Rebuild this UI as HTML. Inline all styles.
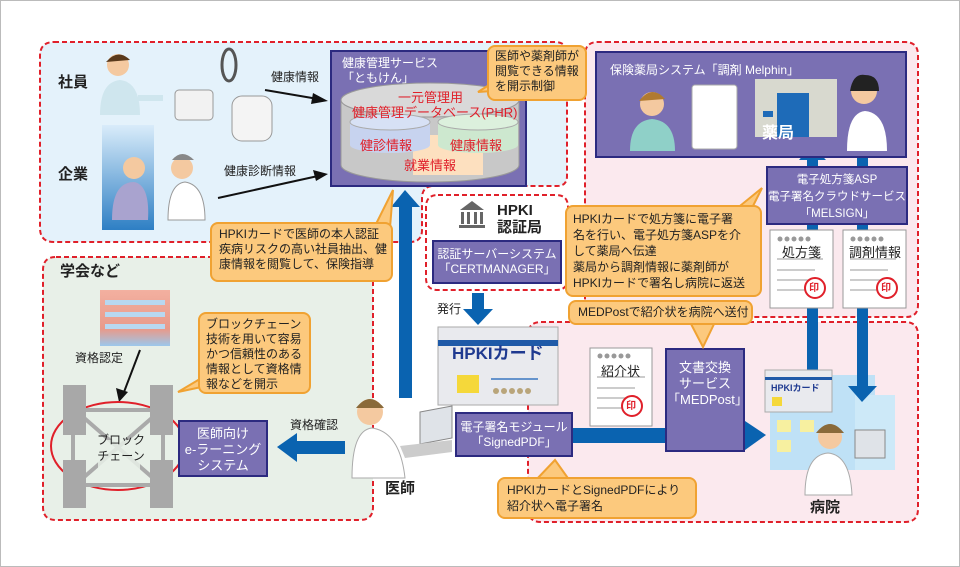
<!DOCTYPE html>
<html><head><meta charset="utf-8"><style>
*{margin:0;padding:0;box-sizing:border-box}
body{width:960px;height:567px;background:#fff;position:relative;overflow:hidden;font-family:"Liberation Sans","Noto Sans CJK JP",sans-serif;color:#222}
.a{position:absolute}
.t{position:absolute;font-size:12px;line-height:15px;white-space:nowrap}
.b{font-weight:bold;font-size:15px}
.p{position:absolute;background:#7a70b3;border:2px solid #2c2a80;color:#fff;font-size:12px;line-height:15px;text-align:center;white-space:nowrap}
.c{position:absolute;background:#fcc97d;border:2px solid #f0a232;border-radius:8px;font-size:12px;line-height:15px;color:#222;padding:2px 6px;white-space:nowrap;overflow:hidden}
</style></head><body>
<svg class="a" style="left:0;top:0" width="960" height="567">
<defs><linearGradient id="bg" x1="0" y1="0" x2="0" y2="1"><stop offset="0" stop-color="#d9ecfa"/><stop offset="1" stop-color="#2e7fc4"/></linearGradient>
<linearGradient id="pk" x1="0" y1="0" x2="0" y2="1"><stop offset="0" stop-color="#f3b0a0"/><stop offset="0.7" stop-color="#e89a8a"/><stop offset="1" stop-color="#9cc8ec"/></linearGradient></defs>
<rect x="0.5" y="0.5" width="959" height="566" fill="#fff" stroke="#bbb"/>
<path d="M54,42 H555 Q567,42 567,54 V176 Q567,186 557,186 H434 Q422,186 422,198 V230 Q422,242 410,242 H54 Q40,242 40,228 V56 Q40,42 54,42Z" fill="#e4f2fb" stroke="#e0202a" stroke-width="2" stroke-dasharray="5,3"/>
<path d="M56,257 H360 Q373,257 373,270 V507 Q373,520 360,520 H56 Q43,520 43,507 V270 Q43,257 56,257Z" fill="#e8f0e8" stroke="#e0202a" stroke-width="2" stroke-dasharray="5,3"/>
<path d="M606,42 H905 Q918,42 918,55 V305 Q918,317 906,317 H585 V55 Q585,42 598,42Z" fill="#fbe9ee" stroke="#e0202a" stroke-width="2" stroke-dasharray="5,3"/>
<path d="M541,322 H905 Q918,322 918,335 V509 Q918,522 905,522 H541 Q528,522 528,509 V335 Q528,322 541,322Z" fill="#fbe9ee" stroke="#e0202a" stroke-width="2" stroke-dasharray="5,3"/>
<path d="M438,195 H556 Q568,195 568,207 V278 Q568,290 556,290 H438 Q426,290 426,278 V207 Q426,195 438,195Z" fill="#fff" stroke="#e0202a" stroke-width="2" stroke-dasharray="5,3"/>
<rect x="770" y="375" width="105" height="95" fill="#bfe1f6"/><rect x="855" y="395" width="40" height="75" fill="#cde9f8"/>
<g fill="#f7f0a0"><rect x="777" y="420" width="14" height="12"/><rect x="777" y="440" width="14" height="12"/><rect x="800" y="420" width="14" height="12"/></g>
<rect x="807" y="158" width="11" height="212" fill="#0a63b0"/>
<polygon points="799,160 826,160 812,145" fill="#0a63b0"/>
<rect x="857" y="158" width="11" height="230" fill="#0a63b0"/>
<polygon points="848,386 877,386 862,402" fill="#0a63b0"/>
<rect x="765" y="370" width="67" height="42" fill="#e9eaee" stroke="#aaa"/><rect x="765" y="377" width="67" height="3" fill="#1f5aa8"/>
<rect x="772" y="397" width="10" height="9" fill="#f5d83a"/>
<circle cx="830" cy="437" r="12" fill="#f4c9a0"/><path d="M816,433 Q830,415 844,433Z" fill="#8a6a3a"/>
<path d="M805,495 Q805,455 828,453 Q850,455 852,495Z" fill="#fff" stroke="#aaa"/>
<rect x="855" y="430" width="30" height="28" fill="#dfe3e8" stroke="#888"/>
<rect x="399" y="205" width="13" height="193" fill="#0a63b0"/>
<polygon points="391,207 420,207 405,190" fill="#0a63b0"/>
<rect x="472" y="293" width="12" height="18" fill="#0a63b0"/>
<polygon points="463,309 493,309 478,325" fill="#0a63b0"/>
<rect x="573" y="428" width="175" height="15" fill="#0a63b0"/>
<polygon points="745,421 745,450 766,435" fill="#0a63b0"/>
<rect x="295" y="441" width="50" height="13" fill="#0a63b0"/>
<polygon points="297,433 297,462 277,447" fill="#0a63b0"/>
<line x1="265" y1="90" x2="318" y2="99" stroke="#111" stroke-width="2"/>
<polygon points="328,101 313,93 311,104" fill="#111"/>
<line x1="218" y1="198" x2="318" y2="176" stroke="#111" stroke-width="2"/>
<polygon points="328,174 313,170 316,181" fill="#111"/>
<line x1="140" y1="350" x2="124" y2="392" stroke="#111" stroke-width="2"/>
<polygon points="119,402 116,388 128,392" fill="#111"/>
<circle cx="118" cy="65" r="11" fill="#f4c9a0"/><path d="M106,62 Q118,48 130,60 Z" fill="#5a3a1c"/>
<path d="M100,115 Q100,82 120,80 Q140,82 140,115Z" fill="#cfe6ee"/><rect x="138" y="95" width="25" height="6" fill="#cfe6ee"/>
<rect x="175" y="90" width="38" height="30" rx="4" fill="#f2f2f2" stroke="#999"/>
<ellipse cx="229" cy="65" rx="7" ry="16" fill="none" stroke="#555" stroke-width="3"/>
<rect x="232" y="96" width="40" height="45" rx="10" fill="#f4f4f4" stroke="#999"/>
<rect x="102" y="125" width="52" height="105" fill="url(#bg)"/>
<circle cx="134" cy="168" r="11" fill="#f4c9a0"/><path d="M112,220 Q112,182 134,182 Q150,185 148,220Z" fill="#a9a3cf"/>
<circle cx="182" cy="168" r="11" fill="#f4c9a0"/><path d="M172,160 Q182,148 194,160Z" fill="#888"/><path d="M168,220 Q168,184 185,182 Q205,185 205,220Z" fill="#fff" stroke="#999"/>
<rect x="100" y="290" width="70" height="56" fill="url(#pk)"/>
<rect x="105" y="300" width="60" height="5" fill="#b8d8f0"/><rect x="105" y="312" width="60" height="5" fill="#b8d8f0"/><rect x="105" y="324" width="60" height="5" fill="#b8d8f0"/>
<ellipse cx="118" cy="446" rx="67" ry="44" fill="none" stroke="#e0202a" stroke-width="2"/>
<g stroke="#aaa" stroke-width="4"><line x1="75" y1="410" x2="161" y2="410"/><line x1="75" y1="485" x2="161" y2="485"/><line x1="73" y1="410" x2="73" y2="485"/><line x1="163" y1="410" x2="163" y2="485"/><line x1="75" y1="410" x2="161" y2="485"/><line x1="161" y1="410" x2="75" y2="485"/></g>
<g fill="#a8a8a8"><rect x="63" y="385" width="23" height="50"/><rect x="150" y="385" width="23" height="50"/><rect x="63" y="460" width="23" height="48"/><rect x="150" y="460" width="23" height="48"/></g>
<rect x="98" y="440" width="42" height="30" fill="#e8f0e8" opacity="0.85"/>
<g fill="#666"><polygon points="460,210 472,201 484,210"/><rect x="461" y="212" width="3" height="12"/><rect x="467" y="212" width="3" height="12"/><rect x="474" y="212" width="3" height="12"/><rect x="480" y="212" width="3" height="12"/><rect x="459" y="225" width="26" height="3"/></g>
<rect x="438" y="327" width="120" height="78" fill="#e9eaee" stroke="#aaa"/>
<rect x="438" y="340" width="120" height="6" fill="#1f5aa8"/>
<rect x="457" y="375" width="22" height="18" fill="#f5d83a"/>
<line x1="491" y1="379" x2="538" y2="379" stroke="#3a78c0" stroke-width="1.5"/>
<g fill="#b9a57a"><circle cx="496" cy="391" r="3"/><circle cx="504" cy="391" r="3"/><circle cx="512" cy="391" r="3"/><circle cx="520" cy="391" r="3"/><circle cx="528" cy="391" r="3"/></g>
<circle cx="370" cy="412" r="13" fill="#f4c9a0"/><path d="M356,408 Q370,390 384,408Z" fill="#8a6a3a"/>
<path d="M352,478 Q352,430 372,428 Q400,432 405,478Z" fill="#fff" stroke="#aaa"/>
<polygon points="420,412 452,406 452,438 420,444" fill="#dfe3e8" stroke="#888"/>
<polygon points="400,446 452,440 452,452 405,458" fill="#ccc"/>
<g><rect x="590" y="348" width="62" height="78" fill="#fff" stroke="#999"/>
<g fill="#999"><circle cx="600" cy="356" r="2.5"/><circle cx="607" cy="356" r="2.5"/><circle cx="614" cy="356" r="2.5"/><circle cx="621" cy="356" r="2.5"/><circle cx="628" cy="356" r="2.5"/></g>
<line x1="597" y1="377" x2="645" y2="377" stroke="#999"/><line x1="597" y1="388" x2="635" y2="388" stroke="#999"/><line x1="597" y1="398" x2="635" y2="398" stroke="#999"/><line x1="597" y1="408" x2="635" y2="408" stroke="#999"/>
<circle cx="632" cy="406" r="10" fill="#fff" stroke="#e0202a" stroke-width="2"/></g>
<g><rect x="770" y="230" width="63" height="78" fill="#fff" stroke="#999"/>
<g fill="#999"><circle cx="780" cy="239" r="2.5"/><circle cx="787" cy="239" r="2.5"/><circle cx="794" cy="239" r="2.5"/><circle cx="801" cy="239" r="2.5"/><circle cx="808" cy="239" r="2.5"/></g>
<line x1="777" y1="259" x2="823" y2="259" stroke="#999"/><line x1="777" y1="270" x2="815" y2="270" stroke="#999"/><line x1="777" y1="280" x2="815" y2="280" stroke="#999"/><line x1="777" y1="290" x2="815" y2="290" stroke="#999"/>
<circle cx="815" cy="288" r="10" fill="#fff" stroke="#e0202a" stroke-width="2"/></g>
<g><rect x="843" y="230" width="63" height="78" fill="#fff" stroke="#999"/>
<g fill="#999"><circle cx="853" cy="239" r="2.5"/><circle cx="860" cy="239" r="2.5"/><circle cx="867" cy="239" r="2.5"/><circle cx="874" cy="239" r="2.5"/><circle cx="881" cy="239" r="2.5"/></g>
<line x1="850" y1="259" x2="896" y2="259" stroke="#999"/><line x1="850" y1="270" x2="888" y2="270" stroke="#999"/><line x1="850" y1="280" x2="888" y2="280" stroke="#999"/><line x1="850" y1="290" x2="888" y2="290" stroke="#999"/>
<circle cx="887" cy="288" r="10" fill="#fff" stroke="#e0202a" stroke-width="2"/></g>
</svg>

<div class="p" style="left:595px;top:51px;width:312px;height:107px;text-align:left;padding:10px 0 0 13px">保険薬局システム「調剤 Melphin」</div>
<svg class="a" style="left:595px;top:51px" width="312" height="107">
<circle cx="57" cy="53" r="12" fill="#f4c9a0"/><path d="M44,50 Q57,33 70,48Z" fill="#b07a30"/>
<path d="M35,100 Q35,70 57,68 Q80,70 80,100Z" fill="#8fd0c8"/>
<rect x="97" y="34" width="45" height="64" rx="3" fill="#fff" stroke="#aaa"/>
<rect x="160" y="28" width="82" height="58" fill="#d8d9cf"/><rect x="182" y="42" width="32" height="44" fill="#1e6bb8"/><rect x="168" y="60" width="10" height="6" fill="#1e6bb8"/>
<circle cx="269" cy="40" r="13" fill="#f4c9a0"/><path d="M255,40 Q258,22 270,24 Q284,24 284,40Z" fill="#222"/>
<path d="M252,100 Q252,62 270,60 Q292,62 292,100Z" fill="#fff"/>
</svg>
<div class="t b" style="left:762px;top:126px;color:#fff;font-size:16px">薬局</div>

<div class="p" style="left:330px;top:50px;width:197px;height:137px;text-align:left;padding:4px 0 0 10px">健康管理サービス<br>「ともけん」</div>
<svg class="a" style="left:338px;top:80px" width="185" height="105">
<path d="M3,20 V85 A89,17 0 0 0 181,85 V20Z" fill="#c8c8c8" stroke="#999"/>
<ellipse cx="92" cy="20" rx="89" ry="17" fill="#d9d9d9" stroke="#999"/>
<rect x="75" y="55" width="70" height="40" fill="#fde0bf"/>
<path d="M12,42 V65 A40,8 0 0 0 92,65 V42Z" fill="#c7d3ef"/><ellipse cx="52" cy="42" rx="40" ry="8" fill="#d7e1f5" stroke="#aaa"/>
<path d="M100,42 V65 A40,8 0 0 0 180,65 V42Z" fill="#cde8cf"/><ellipse cx="140" cy="42" rx="40" ry="8" fill="#dcf0dd" stroke="#aaa"/>
</svg>
<div class="t" style="left:398px;top:90px;color:#e0202a;font-size:13px">一元管理用</div>
<div class="t" style="left:352px;top:105px;color:#e0202a;font-size:13px">健康管理データベース(PHR)</div>
<div class="t" style="left:360px;top:138px;color:#e0202a;font-size:13px">健診情報</div>
<div class="t" style="left:450px;top:138px;color:#e0202a;font-size:13px">健康情報</div>
<div class="t" style="left:404px;top:158px;color:#e0202a;font-size:13px">就業情報</div>

<div class="p" style="left:432px;top:240px;width:130px;height:44px;padding-top:5px">認証サーバーシステム<br>「CERTMANAGER」</div>
<div class="p" style="left:766px;top:166px;width:142px;height:59px;padding-top:4px;line-height:17px;font-size:11.5px">電子処方箋ASP<br>電子署名クラウドサービス<br>「MELSIGN」</div>
<div class="p" style="left:455px;top:412px;width:118px;height:45px;padding-top:6px">電子署名モジュール<br>「SignedPDF」</div>
<div class="p" style="left:665px;top:348px;width:80px;height:104px;padding-top:10px;font-size:13px;line-height:16px">文書交換<br>サービス<br>「MEDPost」</div>
<div class="p" style="left:178px;top:420px;width:90px;height:57px;padding-top:4px;font-size:13px;line-height:16px">医師向け<br>e-ラーニング<br>システム</div>

<svg class="a" style="left:0;top:0;overflow:visible" width="960" height="567">
<g fill="#fcc97d" stroke="#f0a232" stroke-width="2">
<polygon points="500,78 478,92 506,90"/>
<polygon points="375,226 393,190 390,228"/>
<polygon points="215,370 178,392 225,382"/>
<polygon points="735,210 762,188 750,212"/>
<polygon points="690,322 703,347 715,322"/>
<polygon points="535,481 555,460 570,481"/>
</g></svg>
<div class="c" style="left:487px;top:45px;width:100px;height:56px">医師や薬剤師が<br>閲覧できる情報<br>を開示制御</div>
<div class="c" style="left:210px;top:222px;width:183px;height:60px;padding:3px 7px">HPKIカードで医師の本人認証<br>疾病リスクの高い社員抽出、健<br>康情報を閲覧して、保険指導</div>
<div class="c" style="left:198px;top:312px;width:113px;height:82px;padding:3px 6px">ブロックチェーン<br>技術を用いて容易<br>かつ信頼性のある<br>情報として資格情<br>報などを開示</div>
<div class="c" style="left:565px;top:205px;width:197px;height:92px;padding:4px 6px;line-height:16px">HPKIカードで処方箋に電子署<br>名を行い、電子処方箋ASPを介<br>して薬局へ伝達<br>薬局から調剤情報に薬剤師が<br>HPKIカードで署名し病院に返送</div>
<div class="c" style="left:568px;top:300px;width:185px;height:25px;padding:3px 8px">MEDPostで紹介状を病院へ送付</div>
<div class="c" style="left:497px;top:477px;width:200px;height:42px;padding:3px 8px;line-height:16px">HPKIカードとSignedPDFにより<br>紹介状へ電子署名</div>

<div class="t b" style="left:58px;top:75px">社員</div>
<div class="t b" style="left:58px;top:167px">企業</div>
<div class="t b" style="left:60px;top:264px">学会など</div>
<div class="t b" style="left:385px;top:481px">医師</div>
<div class="t b" style="left:810px;top:500px">病院</div>
<div class="t b" style="left:497px;top:202px;line-height:17px">HPKI<br>認証局</div>
<div class="t" style="left:271px;top:70px">健康情報</div>
<div class="t" style="left:224px;top:164px">健康診断情報</div>
<div class="t" style="left:75px;top:351px">資格認定</div>
<div class="t" style="left:290px;top:418px">資格確認</div>
<div class="t" style="left:437px;top:302px">発行</div>
<div class="t" style="left:97px;top:432px;line-height:16px;text-align:center">ブロック<br>チェーン</div>
<div class="t" style="left:452px;top:346px;color:#1f3a90;font-weight:bold;font-size:17px">HPKIカード</div>
<div class="t" style="left:771px;top:381px;color:#1f3a90;font-weight:bold;font-size:9px">HPKIカード</div>
<div class="t" style="left:601px;top:364px;font-size:13px">紹介状</div>
<div class="t" style="left:782px;top:245px;font-size:13px">処方箋</div>
<div class="t" style="left:849px;top:245px;font-size:13px">調剤情報</div>
<div class="t" style="left:626px;top:399px;color:#e0202a;font-size:10px;font-weight:bold">印</div>
<div class="t" style="left:809px;top:281px;color:#e0202a;font-size:10px;font-weight:bold">印</div>
<div class="t" style="left:881px;top:281px;color:#e0202a;font-size:10px;font-weight:bold">印</div>
</body></html>
